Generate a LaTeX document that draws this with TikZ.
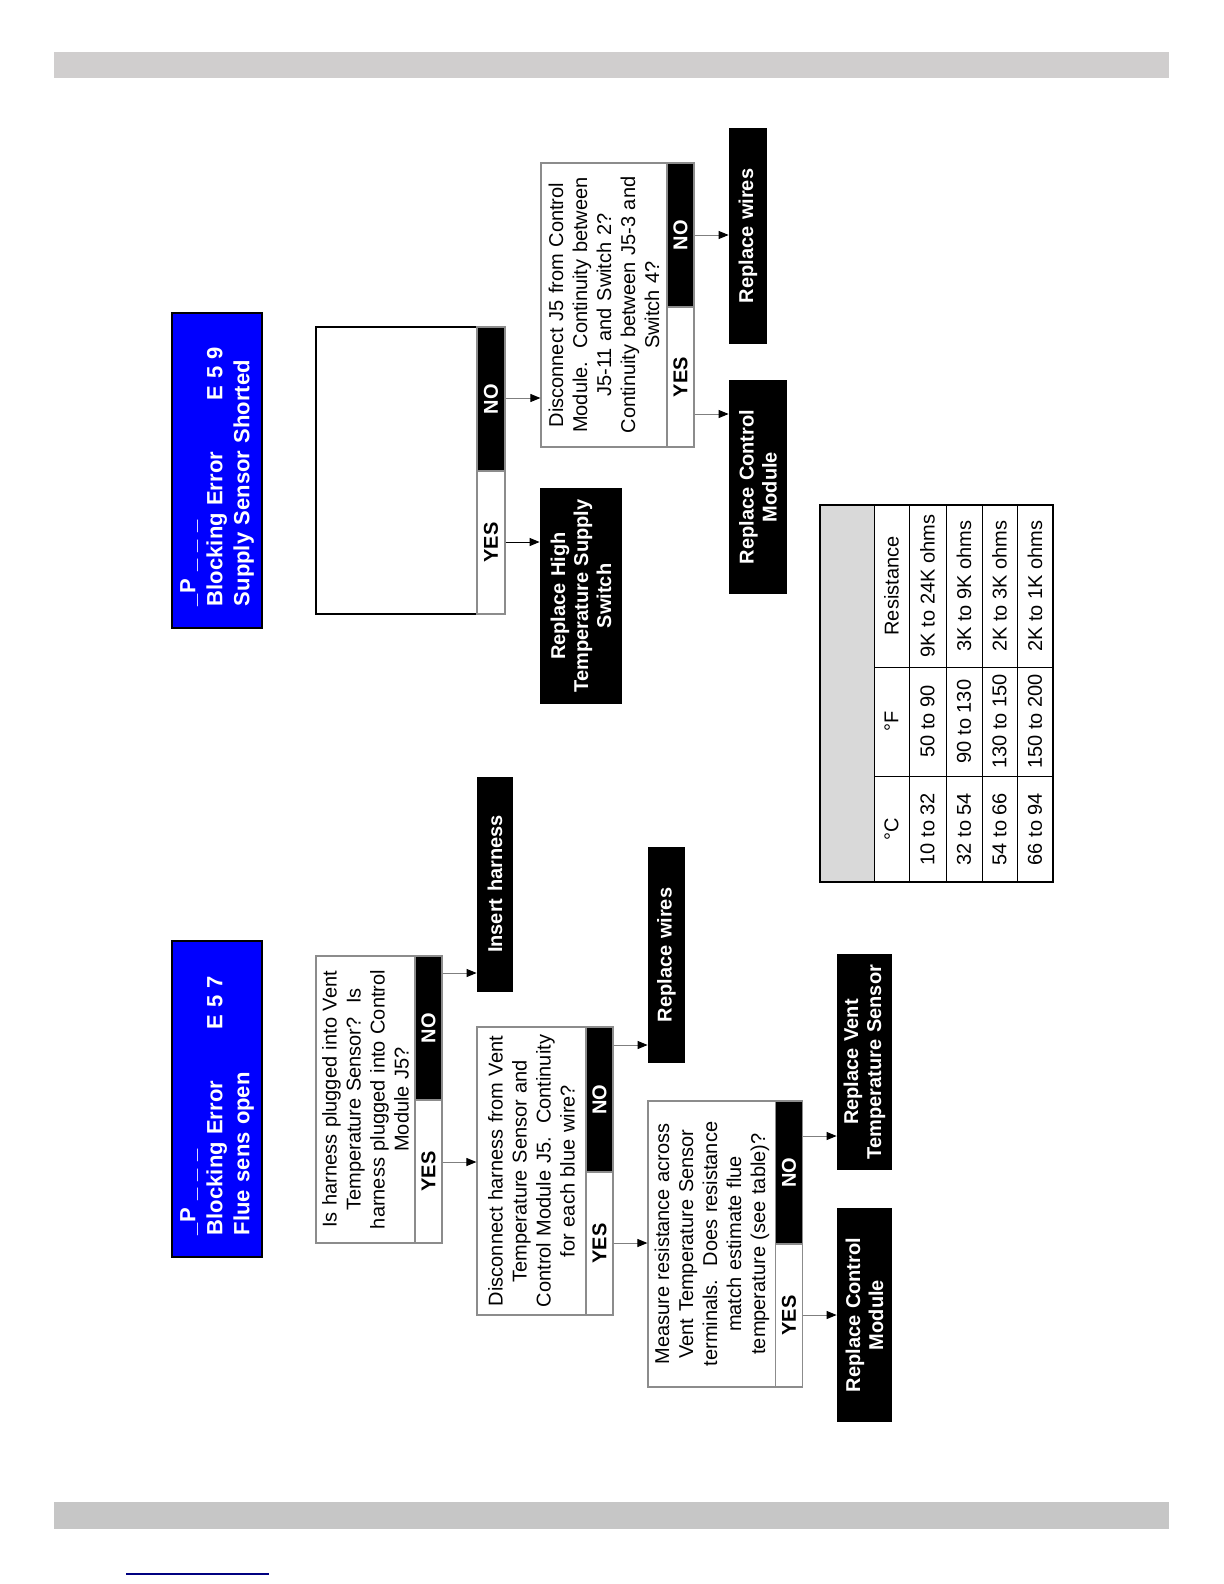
\documentclass[tikz,border=0pt]{standalone}
\usepackage{fontspec}
\setmainfont{Liberation Sans}
\usetikzlibrary{arrows.meta}
\definecolor{ChartBlue}{HTML}{0000FF}
\definecolor{ChartLine}{HTML}{8C8C8C}
\definecolor{ChartArrow}{HTML}{7F7F7F}
\definecolor{ChartHead}{HTML}{D9D9D9}
\definecolor{BarTop}{HTML}{D0CECE}
\definecolor{BarBottom}{HTML}{C6C6C6}
\definecolor{RuleBlue}{HTML}{000080}
\tikzset{
  chart/header/.style={
    rotate=90, draw=black, line width=.9pt, fill=ChartBlue, text=white,
    font=\fontsize{11}{13.5}\selectfont\bfseries, align=left,
    inner xsep=11pt, inner ysep=0pt, minimum height=45pt
  },
  chart/ask/.style={
    rotate=90, draw=ChartLine, line width=.6pt, fill=white,
    font=\fontsize{10}{12}\selectfont, align=center, inner sep=0pt
  },
  chart/yes/.style={
    rotate=90, draw=ChartLine, line width=.6pt, fill=white,
    font=\fontsize{10}{12}\selectfont\bfseries, inner sep=0pt,
    minimum height=13.5pt
  },
  chart/no/.style={chart/yes, fill=black, text=white},
  chart/fix/.style={
    rotate=90, fill=black, text=white,
    font=\fontsize{10}{11.5}\selectfont\bfseries, align=center, inner sep=0pt
  },
  chart/arrow/.style={
    -{Triangle[length=5pt,width=4pt,color=black]}, line width=.5pt, draw=ChartArrow
  },
  chart/cell/.style={rotate=90, font=\fontsize{10}{12}\selectfont, inner sep=0pt},
  chart/rule/.style={draw=black, line width=.5pt},
  chart/frame/.style={draw=black, line width=1pt}
}
\begin{document}
\begin{tikzpicture}[x=.5pt,y=-.5pt]
  \useasboundingbox (0,0) rectangle (1224,1584);
  % page furniture
  \fill[BarTop] (54,52) rectangle (1169,78);
  \fill[BarBottom] (54,1502) rectangle (1169,1529);
  \draw[RuleBlue,line width=1pt] (126,1574) -- (269,1574);

  % E57 chain
  \node[chart/header,text width=136pt] (hd57) at (217,1099)
    {\_P \_ \_ \_\\Blocking Error\hspace{22pt} E 5 7\\Flue sens open};
  \node[chart/ask,minimum width=143.5pt,minimum height=49.5pt,text width=140pt] (q1) at (365.5,1099.5)
    {Is harness plugged into Vent\\Temperature Sensor?\ \ Is\\harness plugged into Control\\Module J5?};
  \node[chart/no,minimum width=72pt] (q1no) at (428.5,1028) {NO};
  \node[chart/yes,minimum width=71.5pt] (q1yes) at (428.5,1171.5) {YES};
  \node[chart/fix,minimum width=107.5pt,minimum height=18pt,text width=105pt] (ins) at (495,884)
    {Insert harness};

  \node[chart/ask,minimum width=144pt,minimum height=54.5pt,text width=141pt] (q2) at (531.5,1171)
    {Disconnect harness from Vent\\Temperature Sensor and\\Control Module J5.\ \ Continuity\\for each blue wire?};
  \node[chart/no,minimum width=72.5pt] (q2no) at (599.5,1099.5) {NO};
  \node[chart/yes,minimum width=71.5pt] (q2yes) at (599.5,1243.5) {YES};
  \node[chart/fix,minimum width=108pt,minimum height=18.5pt,text width=105pt] (rw57) at (666.5,955)
    {Replace wires};

  \node[chart/ask,minimum width=143pt,minimum height=64pt,text width=140pt] (q3) at (712,1244)
    {Measure resistance across\\Vent Temperature Sensor\\terminals.\ \ Does resistance\\match estimate flue\\temperature (see table)?};
  \node[chart/no,minimum width=71.5pt] (q3no) at (789,1172.5) {NO};
  \node[chart/yes,minimum width=71.5pt] (q3yes) at (789,1315.5) {YES};
  \node[chart/fix,minimum width=108pt,minimum height=27.5pt,text width=105pt] (rvts) at (864.5,1062)
    {Replace Vent\\Temperature Sensor};
  \node[chart/fix,minimum width=107pt,minimum height=27.5pt,text width=105pt] (rcm57) at (864.5,1315)
    {Replace Control\\Module};

  % E59 chain
  \node[chart/header,text width=135.5pt] (hd59) at (217,470.5)
    {\_P \_ \_ \_\\Blocking Error\hspace{22pt} E 5 9\\Supply Sensor Shorted};
  \node[chart/ask,draw=black,line width=1pt,minimum width=143.5pt,minimum height=80.5pt] (q0) at (396.5,470.5) {};
  \node[chart/no,minimum width=72pt,minimum height=14pt] (q0no) at (491,399) {NO};
  \node[chart/yes,minimum width=71.5pt,minimum height=14pt] (q0yes) at (491,542.5) {YES};
  \node[chart/fix,minimum width=108pt,minimum height=41pt,text width=105pt] (rhts) at (581,596)
    {Replace High\\Temperature Supply\\Switch};

  \node[chart/ask,minimum width=142pt,minimum height=63pt,text width=139pt] (q4) at (604,305)
    {Disconnect J5 from Control\\Module.\ \ Continuity between\\J5-11 and Switch 2?\\Continuity between J5-3 and\\Switch 4?};
  \node[chart/no,minimum width=72pt] (q4no) at (680.5,235) {NO};
  \node[chart/yes,minimum width=70pt] (q4yes) at (680.5,377) {YES};
  \node[chart/fix,minimum width=108pt,minimum height=19pt,text width=105pt] (rw59) at (748,236)
    {Replace wires};
  \node[chart/fix,minimum width=107pt,minimum height=29pt,text width=105pt] (rcm59) at (758,487)
    {Replace Control\\Module};

  % connectors
  \foreach \a/\b/\y in {q1no/ins/973,q1yes/q2/1162,q2no/rw57/1045,q2yes/q3/1243,
      q3no/rvts/1136,q3yes/rcm57/1315,q0no/q4/398,q4no/rw59/235,q4yes/rcm59/414}{
    \coordinate (row) at (0,\y);
    \draw[chart/arrow] (\a.south |- row) -- (\b.north |- row);
  }
  \coordinate (row) at (0,542);
  \draw[chart/arrow,draw=black] (q0yes.south |- row) -- (rhts.north |- row);

  % resistance table
  \fill[ChartHead] (820,505) rectangle (874,882);
  \foreach \x in {874,909,946,982,1017}
    \draw[chart/rule] (\x,505) -- (\x,882);
  \foreach \y in {667,776}
    \draw[chart/rule] (874,\y) -- (1053,\y);
  \draw[chart/frame] (820,505) rectangle (1053,882);
  \foreach \x/\c/\f/\r in {891.5/{°C}/{°F}/Resistance,927.5/10 to 32/50 to 90/9K to 24K ohms,
      964/32 to 54/90 to 130/3K to 9K ohms,999.5/54 to 66/130 to 150/2K to 3K ohms,
      1035/66 to 94/150 to 200/2K to 1K ohms}{
    \node[chart/cell] (degc\x) at (\x,829) {\c};
    \node[chart/cell] (degf\x) at (\x,721.5) {\f};
    \node[chart/cell] (ohm\x) at (\x,586) {\r};
  }
\end{tikzpicture}
\end{document}
